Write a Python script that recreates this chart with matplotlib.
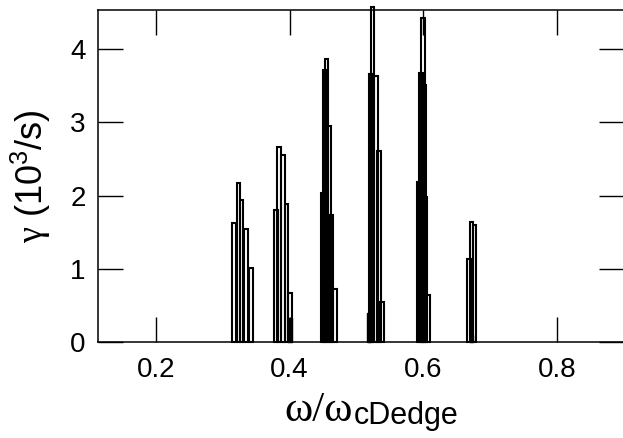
import matplotlib
matplotlib.use("Agg")
import matplotlib.pyplot as plt

plt.rcParams["font.family"] = ["Liberation Sans", "DejaVu Sans"]
plt.rcParams["mathtext.fontset"] = "custom"
plt.rcParams["mathtext.rm"] = "Liberation Serif"
plt.rcParams["mathtext.it"] = "Liberation Serif"
plt.rcParams["mathtext.sf"] = "Liberation Sans"

# Decay rate peaks (outlined bars), grouped around each resonance
omega_open = [
    0.3168, 0.3232, 0.3283, 0.3348, 0.3423,
    0.3797, 0.3842, 0.3902, 0.3957, 0.4007,
    0.4501, 0.4520, 0.4556, 0.4601, 0.4631, 0.4680,
    0.5217, 0.5242, 0.5295, 0.5335, 0.5380,
    0.5933, 0.5968, 0.5998, 0.6013, 0.6028, 0.6073,
    0.6687, 0.6721, 0.6766,
]
gamma_open = [
    1.63, 2.17, 1.94, 1.55, 1.01,
    1.80, 2.66, 2.55, 1.89, 0.67,
    2.03, 3.72, 3.87, 2.95, 1.73, 0.72,
    3.66, 4.57, 3.63, 2.61, 0.55,
    2.19, 3.68, 4.43, 3.51, 1.98, 0.64,
    1.13, 1.64, 1.60,
]

# Small filled peaks at the base of some groups
omega_filled = [0.4007, 0.5190, 0.6725]
gamma_filled = [0.33, 0.39, 0.10]

bar_width = 0.005

fig = plt.figure(figsize=(6.23, 4.38), dpi=100)
ax = fig.add_axes([98 / 623, 96 / 438, 525.6 / 623, 332 / 438])

ax.bar(omega_filled, gamma_filled, width=bar_width, color="black",
       edgecolor="black", linewidth=1.0, clip_on=False)
ax.bar(omega_open, gamma_open, width=bar_width, facecolor="none",
       edgecolor="black", linewidth=1.5, clip_on=False)

ax.set_xlim(0.113, 0.9)
ax.set_ylim(0, 4.535)
ax.set_xticks([0.2, 0.4, 0.6, 0.8])
ax.set_yticks([0, 1, 2, 3, 4])

ax.tick_params(direction="in", length=18, width=1.0, labelsize=20,
               top=True, right=True, pad=9)
ax.tick_params(axis="x", pad=11)
for s in ax.spines.values():
    s.set_linewidth(1.1)

ax.set_ylabel(r"$\gamma$ $\mathsf{(10^{3}/s)}$", fontsize=26, labelpad=12)

# x label: serif omega ratio with a large sans subscript on the same baseline
main = fig.text(284 / 623, 17 / 438, "ω/ω", family="Liberation Serif",
                fontsize=31, va="baseline", ha="left")
fig.canvas.draw()
bb = main.get_window_extent()
fig.text(bb.x1 / fig.bbox.width + 1 / 623, 14 / 438, "cDedge",
         fontsize=22, va="baseline", ha="left")

fig.savefig("out.png", dpi=100)
